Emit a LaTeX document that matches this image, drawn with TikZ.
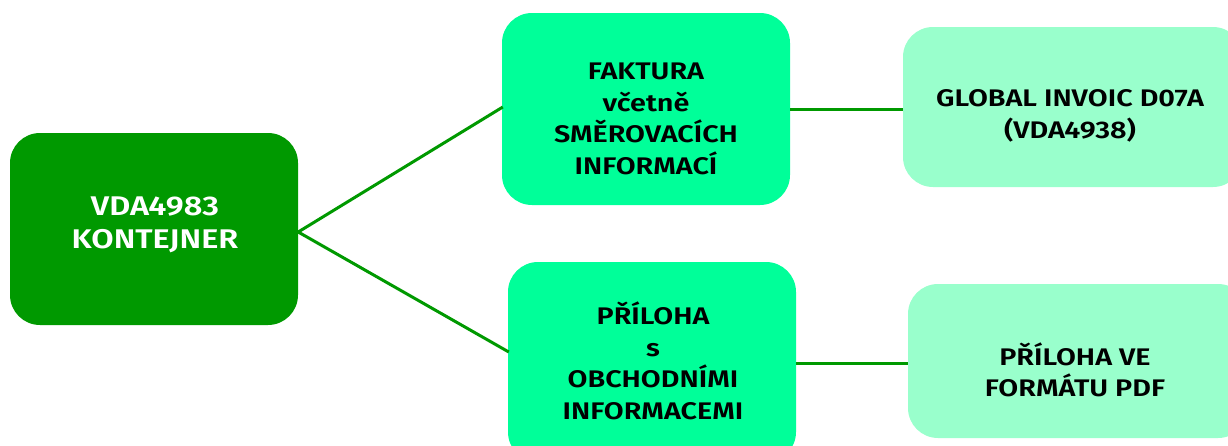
\documentclass[tikz,border=0pt]{standalone}
\usepackage{fontspec}
\setmainfont{Fira Sans}[FakeStretch=1.2,BoldFont={Fira Sans SemiBold},BoldFeatures={FakeStretch=1.2}]
\definecolor{darkg}{HTML}{009900}
\definecolor{springg}{HTML}{00FF99}
\definecolor{mintg}{HTML}{99FFCC}
\begin{document}
\begin{tikzpicture}[x=1pt,y=-1pt,
  box/.style={draw=none,rounded corners=30pt,inner sep=0pt},
  txt/.style={align=center,font=\bfseries\fontsize{24}{31.5}\selectfont,inner sep=0pt},
  link/.style={draw=darkg,line width=3pt}]
\useasboundingbox (0,0) rectangle (1228,445);
\begin{scope}
\clip (0,0) rectangle (1228,445);
\node[box,fill=darkg,minimum width=288pt,minimum height=192pt] (a) at (154,229) {};
\node[box,fill=springg,minimum width=288pt,minimum height=192pt] (b) at (646,109) {};
\node[box,fill=mintg,minimum width=340pt,minimum height=160pt] (c) at (1073,107) {};
\node[box,fill=springg,minimum width=288pt,minimum height=200pt] (d) at (652,362) {};
\node[box,fill=mintg,minimum width=340pt,minimum height=154pt] (e) at (1078,361) {};
\end{scope}
\node[txt,text=white,font=\bfseries\fontsize{27}{33}\selectfont] (at) at (155,225) {VDA4983\\KONTEJNER};
\node[txt] (bt) at (646,119) {FAKTURA\\včetně\\SMĚROVACÍCH\\INFORMACÍ};
\node[txt] (ct) at (1070,116) {GLOBAL INVOIC D07A\\(VDA4938)};
\node[txt] (dt) at (653,361) {PŘÍLOHA\\s\\OBCHODNÍMI\\INFORMACEMI};
\node[txt] (et) at (1075,370) {PŘÍLOHA VE\\FORMÁTU PDF};
\draw[link] ([yshift=-3pt]a.east) -- ([xshift=1pt,yshift=2pt]b.west);
\draw[link] ([yshift=-3pt]a.east) -- ([xshift=1pt,yshift=10pt]d.west);
\draw[link] (b.east) -- (b.east -| c.west);
\draw[link] ([yshift=-1pt]d.east) -- ([yshift=-1pt]d.east -| e.west);
\end{tikzpicture}
\end{document}
